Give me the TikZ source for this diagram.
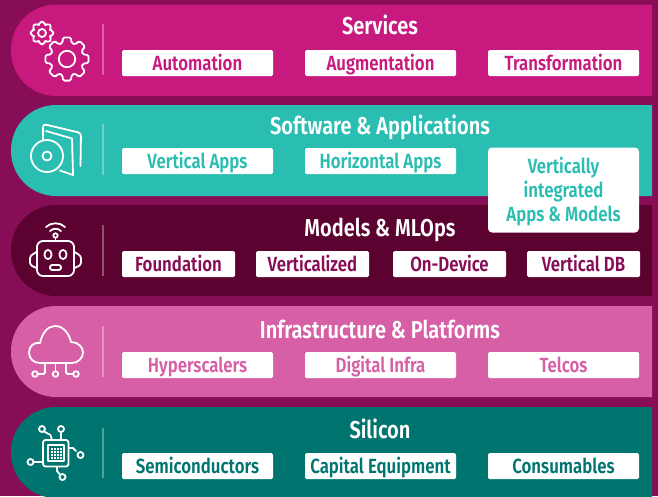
\documentclass[tikz,border=0pt]{standalone}
\usepackage{fontspec}
\setmainfont[FakeStretch=0.82]{Fira Sans SemiBold}
\usetikzlibrary{calc}
\definecolor{bgc}{HTML}{870D56}
\definecolor{svc}{HTML}{C8197F}
\definecolor{swc}{HTML}{2ABDB1}
\definecolor{mdc}{HTML}{5C0230}
\definecolor{inc}{HTML}{D65FA6}
\definecolor{sic}{HTML}{007570}
\definecolor{mdt}{HTML}{870D56}
\tikzset{
 sep/.style={line width=1.8pt,draw=white,draw opacity=.32},
 title/.style={text=white,font=\fontsize{24.4}{26}\selectfont,anchor=center,inner sep=0pt,text height=19pt,text depth=3pt},
 chip/.style={fill=white,draw=none,rounded corners=1.5pt,anchor=center,inner sep=0pt,minimum height=26pt,font=\fontsize{20.5}{23}\selectfont,text height=17pt,text depth=2pt},
 wide/.style={chip,minimum width=151pt},
 small/.style={chip,minimum width=113pt},
 icon/.style={draw=white,line width=1.8pt,line join=round,line cap=round},
}
\newcommand{\bandshape}[3]{\fill[#1] (652,#2) {[rounded corners=45pt] -- (11,#2) -- (11,#3)} -- (652,#3) -- cycle;}
\begin{document}
\begin{tikzpicture}[x=1pt,y=-1pt]
\useasboundingbox (0,0) rectangle (658,496);
\fill[bgc] (0,0) rectangle (658,496);
\begin{scope}
\clip (0,0) rectangle (658,496);
\bandshape{svc}{4.5}{96}
\bandshape{swc}{105}{196}
\bandshape{mdc}{205}{296}
\bandshape{inc}{306}{397}
\bandshape{sic}{407}{498}
\end{scope}
% separators
\draw[sep] (103,24) -- (103,75);
\draw[sep] (103,124) -- (103,175);
\draw[sep] (103,225) -- (103,276);
\draw[sep] (103,326) -- (103,377);
\draw[sep] (103,428) -- (103,478);
% titles
\node[title] (t1) at (380,26) {Services};
\node[title] (t2) at (380,126) {Software \& Applications};
\node[title] (t3) at (380,228) {Models \& MLOps};
\node[title] (t4) at (380,330) {Infrastructure \& Platforms};
\node[title] (t5) at (380,430) {Silicon};
% services
\node[wide,text=svc] (a1) at (197.5,63) {Automation};
\node[wide,text=svc] (a2) at (380.5,63) {Augmentation};
\node[wide,text=svc] (a3) at (563.5,63) {Transformation};
% software
\node[wide,text=swc] (b1) at (197.5,161) {Vertical Apps};
\node[wide,text=swc] (b2) at (380.5,161) {Horizontal Apps};
\node[fill=white,rounded corners=4pt,minimum width=151pt,minimum height=85pt,inner sep=0pt,text=swc,align=center,font=\fontsize{20.5}{24}\selectfont] (b3) at (563.5,190) {\rule{0pt}{19.5pt}Vertically\\integrated\\Apps \& Models};
% models
\node[small,text=mdt] (c1) at (178.5,264) {Foundation};
\node[small,text=mdt] (c2) at (312.5,264) {Verticalized};
\node[small,text=mdt] (c3) at (449.5,264) {On-Device};
\node[small,text=mdt] (c4) at (583.5,264) {Vertical DB};
% infra
\node[wide,text=inc] (d1) at (197.5,365) {Hyperscalers};
\node[wide,text=inc] (d2) at (380.5,365) {Digital Infra};
\node[wide,text=inc] (d3) at (563.5,365) {Telcos};
% silicon
\node[wide,text=sic] (e1) at (197.5,466) {Semiconductors};
\node[wide,text=sic] (e2) at (380.5,466) {Capital Equipment};
\node[wide,text=sic] (e3) at (563.5,466) {Consumables};
% gears
\foreach \cx/\cy/\R/\hole in {67/59/22/8.2, 42/33/11.5/4}{
 \draw[icon,rounded corners=1.6pt]
  \foreach \a [count=\i] in {0,45,...,315}{
   \ifnum\i=1 ($(\cx,\cy)+(\a-11:\R)$) \else -- ($(\cx,\cy)+(\a-11:\R)$) \fi
   -- ($(\cx,\cy)+(\a+11:\R)$) -- ($(\cx,\cy)+(\a+15:\R*.76)$) -- ($(\cx,\cy)+(\a+30:\R*.76)$)
  } -- cycle;
 \draw[icon] (\cx,\cy) circle[radius=\hole];
}
% disc + book
\draw[icon] (47,156) circle[radius=16];
\draw[icon] (47,156) circle[radius=4.5];
\draw[icon,rounded corners=3pt] (43,140) -- (43,124) -- (81,133) -- (80.5,166);
\draw[icon] (46,131) -- (72,138.5) -- (73,175) -- (60,170.5);
% robot
\draw[icon,rounded corners=6pt] (37,241) rectangle (74,276);
\draw[icon,rounded corners=2.5pt] (36.5,252) -- (30,256) -- (30,265) -- (36.5,268);
\draw[icon,rounded corners=2.5pt] (74.5,252) -- (81,256) -- (81,265) -- (74.5,268);
\draw[icon] (48,254.5) ellipse[x radius=3.6,y radius=4.6];
\draw[icon] (63,254.5) ellipse[x radius=3.6,y radius=4.6];
\draw[icon,rounded corners=2.2pt] (50,265) rectangle (61,270);
\draw[icon] (55.5,235.5) circle[radius=2.2];
\draw[icon] (55.5,238) -- (55.5,241);
\draw[icon] (50,231) .. controls (53,228) and (58,228) .. (61,231);
\draw[icon] (46,227) .. controls (51,222) and (60,222) .. (65,227);
% cloud
\draw[icon] (40,363) .. controls (33,363) and (29,358) .. (29,352.5)
 .. controls (29,346) and (34,342) .. (40,343)
 .. controls (42,333) and (48,326) .. (55,326)
 .. controls (63,326) and (69,333) .. (71,342)
 .. controls (78,342) and (83,347) .. (83,352.5)
 .. controls (83,358) and (78,363) .. (72,363) -- cycle;
\draw[icon] (35,374) circle[radius=2.8];
\draw[icon] (55.5,374) circle[radius=2.8];
\draw[icon] (76,374) circle[radius=2.8];
\draw[icon] (55.5,363) -- (55.5,371);
\draw[icon,rounded corners=1.5pt] (45,363) -- (45,374) -- (38,374);
\draw[icon,rounded corners=1.5pt] (66,363) -- (66,374) -- (73,374);
% chip
\draw[icon,rounded corners=2.5pt] (43,440) rectangle (68.5,466.5);
\draw[icon,line width=1.1pt] (48,445) rectangle (64,461);
\foreach \i in {0,1,2,3}\foreach \j in {0,1,2,3}{
 \fill[white] (51.2+\i*3,448.2+\j*3) rectangle +(1.8,1.8);}
\draw[icon] (42,429) circle[radius=3];
\draw[icon] (61,429) circle[radius=3];
\draw[icon] (80.5,455) circle[radius=3];
\draw[icon] (30.5,462) circle[radius=3];
\draw[icon] (62.5,477) circle[radius=3];
\draw[icon] (44,431.5) -- (50.5,435) -- (52,440);
\draw[icon] (61,432) -- (61,440);
\draw[icon] (68.5,448) -- (73,448) -- (76,451);
\draw[icon] (33.5,462) -- (43,462);
\draw[icon] (57,466.5) -- (57,471) -- (60,474.5);
\end{tikzpicture}
\end{document}
